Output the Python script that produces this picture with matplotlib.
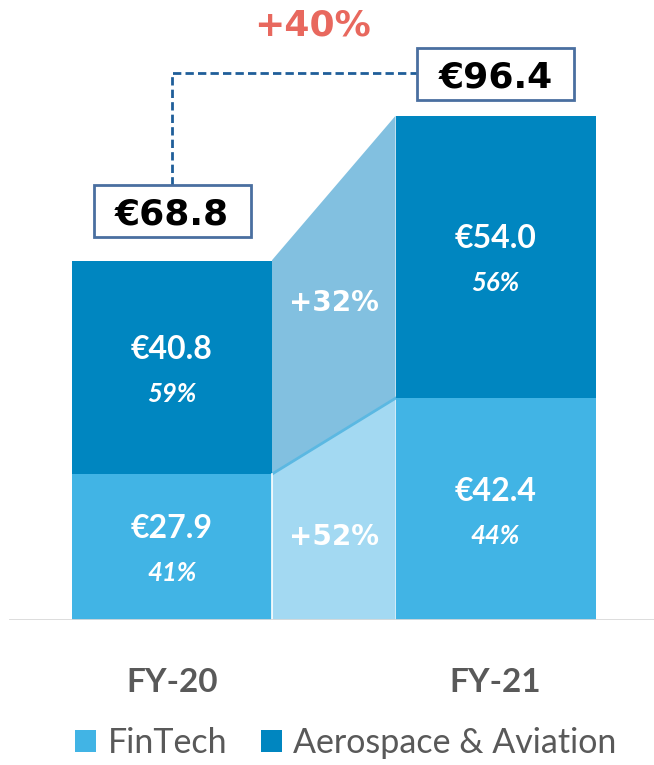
import matplotlib
matplotlib.use("Agg")
import matplotlib.pyplot as plt
from matplotlib.patches import Patch, Polygon, Rectangle

categories = ["FY-20", "FY-21"]
series_names = ["FinTech", "Aerospace & Aviation"]
fintech = [27.9, 42.4]
aero = [40.8, 54.0]
totals = [68.8, 96.4]
fintech_pct = ["41%", "44%"]
aero_pct = ["59%", "56%"]
fintech_growth = "+52%"
aero_growth = "+32%"
total_growth = "+40%"

C_FIN = "#41B4E5"
C_AERO = "#0086C0"
C_CONN_TOP = "#82C0E0"
C_CONN_BOT = "#A3D9F2"
GREY = "#595959"

W, H = 654, 765
fig = plt.figure(figsize=(W / 100, H / 100), dpi=100)
base_px = 620
ax = fig.add_axes([0, (H - base_px) / H, 1, base_px / H])
px_per_unit = 5.23
ax.set_ylim(0, base_px / px_per_unit)
c0, c1 = 172, 495.5
step = c1 - c0
ax.set_xlim(-c0 / step, (W - c0) / step)
bw = 200 / step
ax.axis("off")


def dx(px):
    return (px - c0) / step


def dy(py):
    return (base_px - py) / px_per_unit


x = [0, 1]
ax.bar(x, fintech, width=bw, color=C_FIN, zorder=3)
ax.bar(x, aero, bottom=fintech, width=bw, color=C_AERO, zorder=3)

# connectors
xl = x[0] + bw / 2
xr = x[1] - bw / 2
ax.add_patch(Polygon([[xl, 0], [xl, fintech[0]], [xr, fintech[1]], [xr, 0]],
                     closed=True, facecolor=C_CONN_BOT, edgecolor="none", zorder=2))
ax.add_patch(Polygon([[xl, fintech[0]], [xl, totals[0]], [xr, totals[1]], [xr, fintech[1]]],
                     closed=True, facecolor=C_CONN_TOP, edgecolor="none", zorder=2))
ax.plot([xl, xr], [fintech[0], fintech[1]], color="#5BB8E2", lw=2, zorder=2.5)
ax.plot([xl, xl], [0, fintech[0]], color="white", lw=1.2, zorder=3.5)

# baseline
ax.axhline(0, xmin=10 / W, xmax=1, color="#D9D9D9", lw=2, zorder=4)

lab_font = ["Lato", "DejaVu Sans"]
for i in range(2):
    for val, bottom, pct in ((fintech[i], 0, fintech_pct[i]), (aero[i], fintech[i], aero_pct[i])):
        cy = bottom + val / 2
        ax.annotate(f"€{val:.1f}", (x[i], cy), xytext=(0, 13), textcoords="offset points",
                    ha="center", va="center", color="white", fontsize=23, fontweight="bold",
                    family=lab_font, zorder=5)
        ax.annotate(pct, (x[i], cy), xytext=(0, -19), textcoords="offset points",
                    ha="center", va="center", color="white", fontsize=18.5, fontweight="bold",
                    style="italic", family=lab_font, zorder=5)

xm = (xl + xr) / 2
heavy = ["DejaVu Sans"]
ax.text(xm, dy(537), fintech_growth, ha="center", va="center",
        color="white", fontsize=20, fontweight="bold", family=heavy, zorder=5)
ax.text(xm, dy(303), aero_growth, ha="center", va="center",
        color="white", fontsize=20, fontweight="bold", family=heavy, zorder=5)

# total boxes
box_w, box_h = 157, 52
box_cy = [dy(211), dy(74)]
for i in range(2):
    ax.add_patch(Rectangle((x[i] - box_w / 2 / step, box_cy[i] - box_h / 2 / px_per_unit),
                           box_w / step, box_h / px_per_unit, facecolor="white",
                           edgecolor="#4A6FA0", lw=2, zorder=6))
    ax.text(x[i], box_cy[i], f"€{totals[i]:.1f}", ha="center", va="center_baseline",
            fontsize=26, fontweight="bold", family=heavy, color="black", zorder=7)

# dashed connector between totals
y_top = dy(73)
y_low = box_cy[0] + box_h / 2 / px_per_unit
x_box = x[1] - box_w / 2 / step
ax.plot([x[0], x[0], x_box], [y_low, y_top, y_top], color="#1F5E99", lw=2,
        ls=(0, (3, 1.5)), zorder=5)
ax.text(dx(312), dy(25), total_growth, ha="center", va="center",
        color="#E8685E", fontsize=26, fontweight="bold", family=heavy)

# category labels
for i, c in enumerate(categories):
    ax.annotate(c, (x[i], 0), xytext=(0, -45), textcoords="offset points", ha="center",
                va="center", color=GREY, fontsize=24, fontweight="bold", family=lab_font,
                annotation_clip=False)

handles = [Patch(facecolor=C_FIN, label=series_names[0]),
           Patch(facecolor=C_AERO, label=series_names[1])]
fig.legend(handles=handles, loc="center", bbox_to_anchor=(0.529, (H - 743) / H), ncol=2,
           frameon=False, prop={"family": lab_font, "size": 24.5}, labelcolor=GREY,
           handlelength=0.6, handleheight=0.6, handletextpad=0.35, columnspacing=1.0,
           borderpad=0, borderaxespad=0)

fig.savefig("out.png", dpi=100)
